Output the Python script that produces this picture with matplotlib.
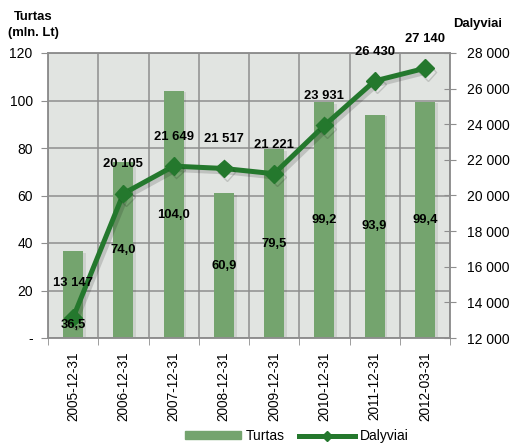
import matplotlib
matplotlib.use("Agg")
import matplotlib.pyplot as plt
import matplotlib.patheffects as pe
from matplotlib.lines import Line2D
from matplotlib.patches import Patch
from matplotlib.ticker import FixedLocator, FuncFormatter

# data
dates = ["2005-12-31", "2006-12-31", "2007-12-31", "2008-12-31",
         "2009-12-31", "2010-12-31", "2011-12-31", "2012-03-31"]
turtas = [36.5, 74.0, 104.0, 60.9, 79.5, 99.2, 93.9, 99.4]        # mln. Lt
dalyviai = [13147, 20105, 21649, 21517, 21221, 23931, 26430, 27140]

BAR = "#74a46e"
LINE = "#24782d"
BG = "#e1e4e1"
GRID = "#8e8e8e"

plt.rcParams["font.family"] = ["Liberation Sans", "DejaVu Sans"]
plt.rcParams["font.size"] = 9.4

fig = plt.figure(figsize=(5.14, 4.45), dpi=100)
ax = fig.add_axes([48 / 514, 1 - 338 / 445, 402 / 514, 285 / 445])
ax.set_facecolor(BG)

x = list(range(len(dates)))
bars = ax.bar(x, turtas, width=0.4, color=BAR, zorder=2)
for b in bars:
    b.set_path_effects([pe.SimplePatchShadow(offset=(2, -1), alpha=0.1), pe.Normal()])

ax.set_xlim(-0.5, len(dates) - 0.5)
ax.set_ylim(0, 120)
ax.yaxis.set_major_locator(FixedLocator(range(0, 121, 20)))
ax.yaxis.set_major_formatter(FuncFormatter(lambda v, p: "-" if v == 0 else f"{v:.0f}"))
ax.set_xticks(x)
ax.set_xticklabels(dates, rotation=90, fontsize=9.8)
ax.xaxis.set_minor_locator(FixedLocator([i - 0.5 for i in range(len(dates) + 1)]))
ax.tick_params(axis="x", which="major", length=0, pad=10)
ax.tick_params(axis="x", which="minor", length=5, direction="out", color=GRID)
ax.tick_params(axis="y", length=5, direction="out", color=GRID, pad=6, labelsize=10)
ax.grid(which="major", axis="y", color=GRID, lw=1.1, zorder=1)
ax.grid(which="minor", axis="x", color=GRID, lw=1.1, zorder=1)
ax.set_axisbelow(True)
for s in ax.spines.values():
    s.set_color(GRID)
    s.set_linewidth(1.1)

ax2 = ax.twinx()
ax2.plot(x, dalyviai, color=LINE, lw=3.6, marker="D", ms=9, zorder=3,
         path_effects=[pe.SimpleLineShadow(offset=(2, -2.5), alpha=0.15), pe.Normal()])
ax2.set_ylim(12000, 28000)
ax2.yaxis.set_major_locator(FixedLocator(range(12000, 28001, 2000)))
ax2.yaxis.set_major_formatter(FuncFormatter(lambda v, p: f"{v:,.0f}".replace(",", " ")))
ax2.tick_params(axis="y", length=8, direction="inout", color=GRID, pad=8, labelsize=10)
for s in ax2.spines.values():
    s.set_color(GRID)
    s.set_linewidth(1.1)

# labels for the line (above the points)
for i, v in enumerate(dalyviai):
    dy = 25 if i == 0 else 21
    ax2.annotate(f"{v:,}".replace(",", " "), (i, v), xytext=(0, dy),
                 textcoords="offset points", ha="center", va="center",
                 fontweight="bold", zorder=5)

# labels for the bars (centred in the bar)
for i, v in enumerate(turtas):
    ypos = 5.5 if i == 0 else v / 2
    ax2.text(i, ypos, f"{v:.1f}".replace(".", ","), transform=ax.transData,
             ha="center", va="center", fontweight="bold", zorder=5)

fig.text(33 / 514, 1 - 25 / 445, "Turtas\n(mln. Lt)", ha="center", va="center",
         fontweight="bold", linespacing=1.45)
fig.text(478 / 514, 1 - 24 / 445, "Dalyviai", ha="center", va="center",
         fontweight="bold")

handles = [Patch(color=BAR, label="Turtas"),
           Line2D([], [], color=LINE, lw=3.6, marker="D", ms=5, label="Dalyviai")]
fig.legend(handles=handles, loc="center", bbox_to_anchor=(297 / 514, 1 - 436 / 445),
           ncol=2, frameon=False, handlelength=4.0, handleheight=0.5,
           handletextpad=0.4, columnspacing=1.0, fontsize=10)

fig.savefig("out.png", dpi=100)
